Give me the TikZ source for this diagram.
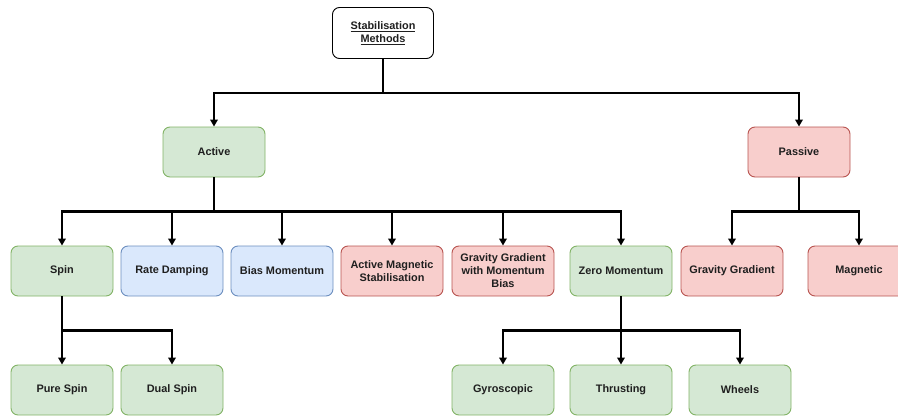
\documentclass[tikz,border=0pt]{standalone}
\usepackage{fontspec}
\setmainfont{Liberation Sans}
\usetikzlibrary{arrows.meta}
\definecolor{grnfill}{HTML}{D5E8D4}
\definecolor{grnline}{HTML}{82B366}
\definecolor{bluefill}{HTML}{DAE8FC}
\definecolor{blueline}{HTML}{6C8EBF}
\definecolor{redfill}{HTML}{F8CECC}
\definecolor{redline}{HTML}{B85450}

\begin{document}
\begin{tikzpicture}[x=1pt, y=-1pt,
	box/.style={rectangle, rounded corners=7pt, minimum width=102pt, minimum height=50pt, align=center, line width=0.9pt, text=black!88, font=\fontsize{10.9}{13}\selectfont\bfseries},
	grn/.style={box, draw=grnline, fill=grnfill},
	blu/.style={box, draw=blueline, fill=bluefill},
	rd/.style={box, draw=redline, fill=redfill},
	conn/.style={line width=2.4pt, -{Triangle[length=7pt,width=7.5pt]}}]
\clip (0,0) rectangle (898,418);
% top
\node [box, draw=black, fill=white, minimum width=101pt, minimum height=51pt] (root) at (383,33) {\underline{Stabilisation}\\\underline{Methods}};
\node [grn] (act) at (214,152) {Active};
\node [rd] (pas) at (799,152) {Passive};
% second row
\node [grn] (spin) at (62,271) {Spin};
\node [blu] (rate) at (172,271) {Rate Damping};
\node [blu] (bias) at (282,271) {Bias Momentum};
\node [rd] (amag) at (392,271) {Active Magnetic\\Stabilisation};
\node [rd] (ggmb) at (503,271) {Gravity Gradient\\with Momentum\\Bias};
\node [grn] (zero) at (621,271) {Zero Momentum};
\node [rd] (ggrad) at (732,271) {Gravity Gradient};
\node [rd] (mag) at (859,271) {Magnetic};
% third row
\node [grn] (pure) at (62,390) {Pure Spin};
\node [grn] (dual) at (172,390) {Dual Spin};
\node [grn] (gyro) at (503,390) {Gyroscopic};
\node [grn] (thrust) at (621,390) {Thrusting};
\node [grn] (wheel) at (740,390) {Wheels};
% connectors
\foreach \c in {act,pas}
	\draw [conn] (root.south) -- ++(0,34) -| (\c.north);
\foreach \c in {spin,rate,bias,amag,ggmb,zero}
	\draw [conn] (act.south) -- ++(0,34) -| (\c.north);
\foreach \c in {ggrad,mag}
	\draw [conn] (pas.south) -- ++(0,34) -| (\c.north);
\foreach \c in {pure,dual}
	\draw [conn] (spin.south) -- ++(0,34) -| (\c.north);
\foreach \c in {gyro,thrust,wheel}
	\draw [conn] (zero.south) -- ++(0,34) -| (\c.north);
\end{tikzpicture}
\end{document}
